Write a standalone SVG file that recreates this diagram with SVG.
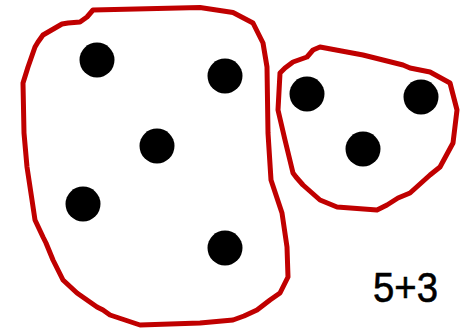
<svg xmlns="http://www.w3.org/2000/svg" width="468" height="328" viewBox="0 0 468 328">
<style>
.blob{fill:none;stroke:#c00000;stroke-width:5;stroke-linejoin:round;stroke-linecap:round}
.dot{fill:#000}
.lbl{font-family:"Liberation Sans",Arial,sans-serif;font-size:42px;fill:#000;stroke:#000;stroke-width:0.6}
</style>
<rect width="468" height="328" fill="#fff"/>
<g id="set-left">
<path class="blob" d="M93,10 L200,7.5 L233,12.5 L253,23 L263,43 L267,67 L268,133 L271,180 L282,213 L287,247 L288,277 L280,293 L270,300 L257,310 L244,316 L233,320 L200,323 L140,325 L110,315 L103,310 L97,307 L77,293 L63,280 L57,268 L53,260 L46,243 L43,237 L35,220 L32,200 L27,167 L24,133 L23,83 L28,67 L35,47 L38,42 L43,35 L62,24 L68,23 L80,22 L87,17 Z"/>
<circle class="dot" cx="97" cy="60" r="17.5"/>
<circle class="dot" cx="225" cy="76" r="17.5"/>
<circle class="dot" cx="157" cy="146" r="17.5"/>
<circle class="dot" cx="83" cy="204" r="17.5"/>
<circle class="dot" cx="225" cy="248" r="17.5"/>
</g>
<g id="set-right">
<path class="blob" d="M320,47 L363,55 L403,65 L410,68 L430,72 L450,83 L457,110 L453,143 L440,167 L430,175 L410,193 L398,198 L387,205 L377,210 L337,207 L320,200 L303,185 L296,177 L293,173 L285,140 L278,110 L280,73 L285,68 L293,62 L307,57 L313,50 Z"/>
<circle class="dot" cx="307" cy="94" r="17.5"/>
<circle class="dot" cx="421" cy="97" r="17.5"/>
<circle class="dot" cx="363" cy="149" r="17.5"/>
</g>
<text class="lbl" x="373" y="302" textLength="65" lengthAdjust="spacingAndGlyphs">5+3</text>
</svg>
